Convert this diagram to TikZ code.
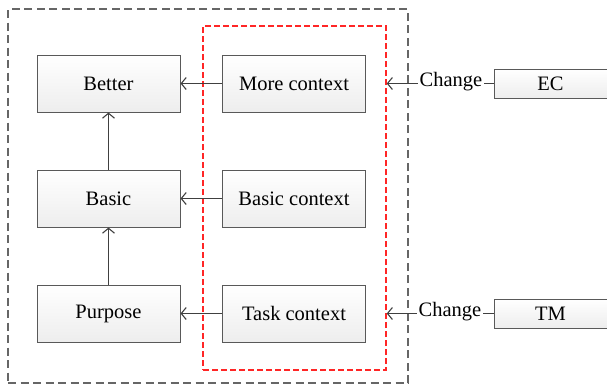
\documentclass[tikz,border=0pt]{standalone}
\usepackage{fontspec}
\setmainfont{Liberation Serif}
\usetikzlibrary{arrows.meta}
\begin{document}
\begin{tikzpicture}[x=1pt,y=-1pt,
  blk/.style={draw=black!65, line width=1pt, top color=white, bottom color=black!7,
    minimum width=143pt, minimum height=57pt, inner sep=0pt, font=\fontsize{20.5}{24}\selectfont},
  srcbox/.style={draw=black!65, line width=1pt, top color=white, bottom color=black!7,
    minimum width=113pt, minimum height=29pt, inner sep=0pt, font=\fontsize{20.5}{24}\selectfont},
  lbl/.style={inner sep=1.5pt, font=\fontsize{20.5}{24}\selectfont},
  conn/.style={draw=black!75, line width=1.1pt, -{Straight Barb[length=5pt,width=12pt]}},
  plain/.style={draw=black!75, line width=1.1pt},
  outerdash/.style={draw=black!60, line width=1.4pt, dash pattern=on 8pt off 4.5pt},
  reddash/.style={draw=red!85!white, line width=1.4pt, dash pattern=on 6pt off 3pt}]
\useasboundingbox (0,0) rectangle (607,389);
\clip (0,0) rectangle (607,389);
\node[outerdash, minimum width=400pt, minimum height=374pt, inner sep=0pt] (outer) at (208,196) {};
\node[reddash, minimum width=183pt, minimum height=344pt, inner sep=0pt] (red) at (294.5,198) {};
\node[blk] (better) at (108.5,83.5) {Better};
\node[blk] (basic) at (108.5,198.5) {Basic};
\node[blk] (purpose) at (108.5,313.5) {Purpose};
\node[blk] (more) at (294,83.5) {More context};
\node[blk] (bctx) at (294,198.5) {Basic context};
\node[blk] (task) at (294,313.5) {Task context};
\node[srcbox] (ec) at (550.5,83.5) {EC};
\node[srcbox] (tm) at (550.5,313.5) {TM};
\node[lbl] (ch1) at (451,82) {Change};
\node[lbl] (ch2) at (450,312) {Change};
\draw[conn] (more) -- (better);
\draw[conn] (bctx) -- (basic);
\draw[conn] (task) -- (purpose);
\draw[conn] (basic) -- (better);
\draw[conn] (purpose) -- (basic);
\draw[conn] (ch1.west |- ec) -- (red.east |- ec);
\draw[conn] (ch2.west |- tm) -- (red.east |- tm);
\draw[plain] (ec.west) -- (ch1.east |- ec);
\draw[plain] (tm.west) -- (ch2.east |- tm);
\end{tikzpicture}
\end{document}
